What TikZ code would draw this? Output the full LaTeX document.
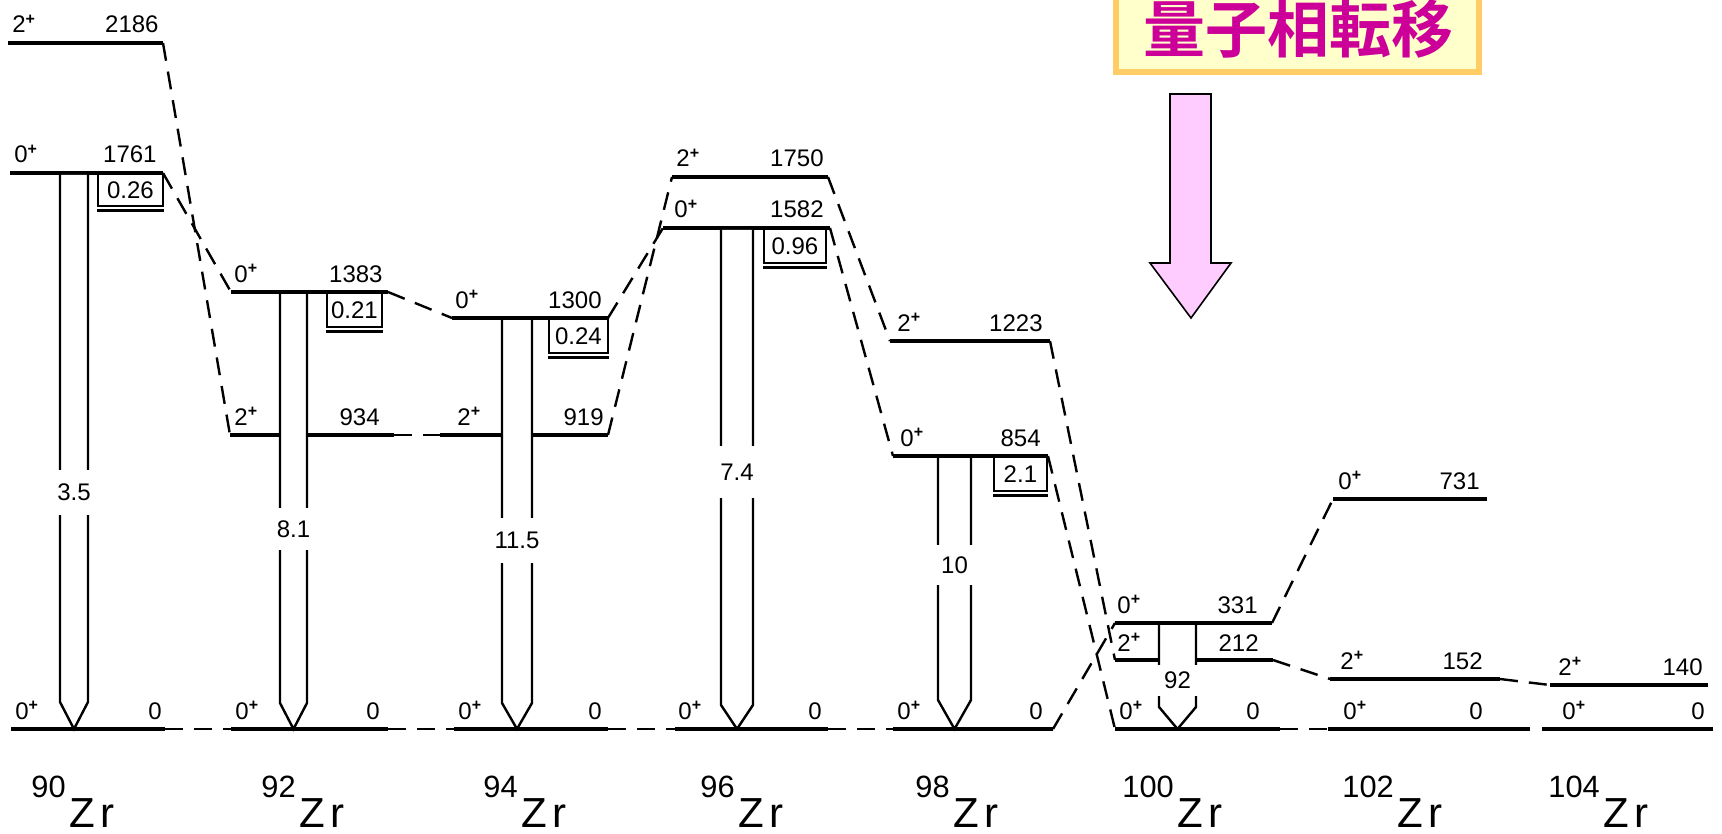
\documentclass[tikz,border=0pt]{standalone}
\usepackage{fontspec}
\setmainfont{Liberation Sans}
\newfontfamily\cjk{Noto Sans CJK JP}[BoldFont={Noto Sans CJK JP Bold}]
\usetikzlibrary{positioning}
\definecolor{titlemag}{HTML}{CC0099}
\definecolor{titlefill}{HTML}{FFFFCC}
\definecolor{titleedge}{HTML}{FFCC66}
\definecolor{arrowpink}{HTML}{FFCCFF}
\begin{document}
\begin{tikzpicture}[x=0.5pt, y=-0.5pt,
  level/.style={line width=1.7pt},
  ground/.style={line width=2.3pt},
  link/.style={line width=1.2pt, dash pattern=on 9pt off 5.5pt},
  trans/.style={line width=1.2pt},
  spin/.style={font=\fontsize{12}{14}\selectfont, inner sep=0pt, anchor=base west},
  energy/.style={font=\fontsize{12}{14}\selectfont, inner sep=0pt, anchor=base east},
  valbox/.style={draw, line width=1.1pt, minimum height=17pt, inner sep=0pt, font=\fontsize{12}{14}\selectfont},
  boxfoot/.style={line width=1.5pt},
  gaplab/.style={fill=white, inner sep=0pt, minimum width=22pt, font=\fontsize{12}{14}\selectfont},
  nuc/.style={font=\fontsize{21}{24}\selectfont, inner sep=0pt, anchor=base west}]

\useasboundingbox (0,0) rectangle (1722,834);
\fill[white] (0,0) rectangle (1722,834);
\clip (0,0) rectangle (1722,834);

% 90Zr
\coordinate (Z90a-l) at (8,43);
\coordinate (Z90a-r) at (163,43);
\coordinate (Z90b-l) at (10,173);
\coordinate (Z90b-r) at (163,173);
\coordinate (Z90g-l) at (11,729);
\coordinate (Z90g-r) at (165,729);
\draw[level] (Z90a-l) -- (Z90a-r);
\draw[level] (Z90b-l) -- (Z90b-r);
\draw[ground] (Z90g-l) -- (Z90g-r);
\node[spin] (Z90a-s) at (12,33) {2\textsuperscript{\textbf{+}}};
\node[energy] (Z90a-e) at (159,33) {2186};
\node[spin] (Z90b-s) at (14,163) {0\textsuperscript{\textbf{+}}};
\node[energy] (Z90b-e) at (157,163) {1761};
\node[spin] (Z90g-s) at (15,719) {0\textsuperscript{\textbf{+}}};
\node[energy] (Z90g-e) at (162,719) {0};

% 92Zr
\coordinate (Z92b-l) at (231,292);
\coordinate (Z92b-r) at (388,292);
\coordinate (Z92a-l) at (230,435);
\coordinate (Z92a-r) at (394,435);
\coordinate (Z92g-l) at (231,729);
\coordinate (Z92g-r) at (388,729);
\draw[level] (Z92b-l) -- (Z92b-r);
\draw[level] (Z92a-l) -- (Z92a-r);
\draw[ground] (Z92g-l) -- (Z92g-r);
\node[spin] (Z92b-s) at (234,282) {0\textsuperscript{\textbf{+}}};
\node[energy] (Z92b-e) at (383,282) {1383};
\node[spin] (Z92a-s) at (234,425) {2\textsuperscript{\textbf{+}}};
\node[energy] (Z92a-e) at (380,425) {934};
\node[spin] (Z92g-s) at (235,719) {0\textsuperscript{\textbf{+}}};
\node[energy] (Z92g-e) at (380,719) {0};

% 94Zr
\coordinate (Z94b-l) at (452,318);
\coordinate (Z94b-r) at (608,318);
\coordinate (Z94a-l) at (440,435);
\coordinate (Z94a-r) at (608,435);
\coordinate (Z94g-l) at (454,729);
\coordinate (Z94g-r) at (608,729);
\draw[level] (Z94b-l) -- (Z94b-r);
\draw[level] (Z94a-l) -- (Z94a-r);
\draw[ground] (Z94g-l) -- (Z94g-r);
\node[spin] (Z94b-s) at (455,308) {0\textsuperscript{\textbf{+}}};
\node[energy] (Z94b-e) at (602,308) {1300};
\node[spin] (Z94a-s) at (457,425) {2\textsuperscript{\textbf{+}}};
\node[energy] (Z94a-e) at (604,425) {919};
\node[spin] (Z94g-s) at (458,719) {0\textsuperscript{\textbf{+}}};
\node[energy] (Z94g-e) at (602,719) {0};

% 96Zr
\coordinate (Z96a-l) at (672,177);
\coordinate (Z96a-r) at (828,177);
\coordinate (Z96b-l) at (663,228);
\coordinate (Z96b-r) at (830,228);
\coordinate (Z96g-l) at (675,729);
\coordinate (Z96g-r) at (828,729);
\draw[level] (Z96a-l) -- (Z96a-r);
\draw[level] (Z96b-l) -- (Z96b-r);
\draw[ground] (Z96g-l) -- (Z96g-r);
\node[spin] (Z96a-s) at (676,167) {2\textsuperscript{\textbf{+}}};
\node[energy] (Z96a-e) at (824,167) {1750};
\node[spin] (Z96b-s) at (674,218) {0\textsuperscript{\textbf{+}}};
\node[energy] (Z96b-e) at (824,218) {1582};
\node[spin] (Z96g-s) at (678,719) {0\textsuperscript{\textbf{+}}};
\node[energy] (Z96g-e) at (822,719) {0};

% 98Zr
\coordinate (Z98a-l) at (890,341);
\coordinate (Z98a-r) at (1050,341);
\coordinate (Z98b-l) at (893,456);
\coordinate (Z98b-r) at (1048,456);
\coordinate (Z98g-l) at (893,729);
\coordinate (Z98g-r) at (1053,729);
\draw[level] (Z98a-l) -- (Z98a-r);
\draw[level] (Z98b-l) -- (Z98b-r);
\draw[ground] (Z98g-l) -- (Z98g-r);
\node[spin] (Z98a-s) at (897,331) {2\textsuperscript{\textbf{+}}};
\node[energy] (Z98a-e) at (1043,331) {1223};
\node[spin] (Z98b-s) at (900,446) {0\textsuperscript{\textbf{+}}};
\node[energy] (Z98b-e) at (1041,446) {854};
\node[spin] (Z98g-s) at (897,719) {0\textsuperscript{\textbf{+}}};
\node[energy] (Z98g-e) at (1043,719) {0};

% 100Zr
\coordinate (Z100b-l) at (1115,623);
\coordinate (Z100b-r) at (1272,623);
\coordinate (Z100a-l) at (1115,660);
\coordinate (Z100a-r) at (1273,660);
\coordinate (Z100g-l) at (1115,729);
\coordinate (Z100g-r) at (1280,729);
\draw[level] (Z100b-l) -- (Z100b-r);
\draw[level] (Z100a-l) -- (Z100a-r);
\draw[ground] (Z100g-l) -- (Z100g-r);
\node[spin] (Z100b-s) at (1117,613) {0\textsuperscript{\textbf{+}}};
\node[energy] (Z100b-e) at (1258,613) {331};
\node[spin] (Z100a-s) at (1117,651) {2\textsuperscript{\textbf{+}}};
\node[energy] (Z100a-e) at (1259,651) {212};
\node[spin] (Z100g-s) at (1119,719) {0\textsuperscript{\textbf{+}}};
\node[energy] (Z100g-e) at (1260,719) {0};

% 102Zr
\coordinate (Z102b-l) at (1333,499);
\coordinate (Z102b-r) at (1487,499);
\coordinate (Z102a-l) at (1330,679);
\coordinate (Z102a-r) at (1500,679);
\coordinate (Z102g-l) at (1328,729);
\coordinate (Z102g-r) at (1530,729);
\draw[level] (Z102b-l) -- (Z102b-r);
\draw[level] (Z102a-l) -- (Z102a-r);
\draw[ground] (Z102g-l) -- (Z102g-r);
\node[spin] (Z102b-s) at (1338,489) {0\textsuperscript{\textbf{+}}};
\node[energy] (Z102b-e) at (1480,489) {731};
\node[spin] (Z102a-s) at (1340,669) {2\textsuperscript{\textbf{+}}};
\node[energy] (Z102a-e) at (1483,669) {152};
\node[spin] (Z102g-s) at (1343,719) {0\textsuperscript{\textbf{+}}};
\node[energy] (Z102g-e) at (1483,719) {0};

% 104Zr
\coordinate (Z104a-l) at (1550,685);
\coordinate (Z104a-r) at (1708,685);
\coordinate (Z104g-l) at (1542,729);
\coordinate (Z104g-r) at (1713,729);
\draw[level] (Z104a-l) -- (Z104a-r);
\draw[ground] (Z104g-l) -- (Z104g-r);
\node[spin] (Z104a-s) at (1558,675) {2\textsuperscript{\textbf{+}}};
\node[energy] (Z104a-e) at (1703,675) {140};
\node[spin] (Z104g-s) at (1562,719) {0\textsuperscript{\textbf{+}}};
\node[energy] (Z104g-e) at (1705,719) {0};

% dashed links between isotopes
\draw[link] (Z90a-r) -- (Z92a-l);
\draw[link] (Z90b-r) -- (Z92b-l);
\draw[link] (Z90g-r) -- (Z92g-l);
\draw[link] (Z92b-r) -- (Z94b-l);
\draw[link] (Z92a-r) -- (Z94a-l);
\draw[link] (Z92g-r) -- (Z94g-l);
\draw[link] (Z94b-r) -- (Z96b-l);
\draw[link] (Z94a-r) -- (Z96a-l);
\draw[link] (Z94g-r) -- (Z96g-l);
\draw[link] (Z96a-r) -- (Z98a-l);
\draw[link] (Z96b-r) -- (Z98b-l);
\draw[link] (Z96g-r) -- (Z98g-l);
\draw[link] (Z98a-r) -- (Z100a-l);
\draw[link] (Z98b-r) -- (Z100g-l);
\draw[link] (Z98g-r) -- (Z100b-l);
\draw[link] (Z100b-r) -- (Z102b-l);
\draw[link] (Z100a-r) -- (Z102a-l);
\draw[link] (Z100g-r) -- (Z102g-l);
\draw[link] (Z102a-r) -- (Z104a-l);

% boxed values under the excited 0+ levels
\node[valbox, minimum width=32.5pt, minimum height=16pt, below left=0pt and -0.5pt of Z90b-r] (V90) {0.26};
\draw[boxfoot] ([yshift=-1.6pt]V90.south west) -- ([yshift=-1.6pt]V90.south east);
\node[valbox, minimum width=27.5pt, below left=0pt and 2.5pt of Z92b-r] (V92) {0.21};
\draw[boxfoot] ([yshift=-1.6pt]V92.south west) -- ([yshift=-1.6pt]V92.south east);
\node[valbox, minimum width=29.5pt, below left=0pt and -0.5pt of Z94b-r] (V94) {0.24};
\draw[boxfoot] ([yshift=-1.6pt]V94.south west) -- ([yshift=-1.6pt]V94.south east);
\node[valbox, minimum width=31pt, below left=0pt and 1.5pt of Z96b-r] (V96) {0.96};
\draw[boxfoot] ([yshift=-1.6pt]V96.south west) -- ([yshift=-1.6pt]V96.south east);
\node[valbox, minimum width=26.5pt, below left=0pt and 0pt of Z98b-r] (V98) {2.1};
\draw[boxfoot] ([yshift=-1.6pt]V98.south west) -- ([yshift=-1.6pt]V98.south east);

% E0 transitions to the ground state
\fill[white] (60,175) -- (60,702) -- (74,727) -- (88,702) -- (88,175) -- cycle;
\draw[trans] (60,173) -- (60,702) -- (74,729) -- (88,702) -- (88,173);
\node[gaplab, minimum height=22.5pt] (T90) at (74,492) {3.5};
\fill[white] (280,294) -- (280,703) -- (293.5,727) -- (307,703) -- (307,294) -- cycle;
\draw[trans] (280,292) -- (280,703) -- (293.5,729) -- (307,703) -- (307,292);
\node[gaplab, minimum height=21pt] (T92) at (293.5,529) {8.1};
\fill[white] (502,320) -- (502,703) -- (517,727) -- (532,703) -- (532,320) -- cycle;
\draw[trans] (502,318) -- (502,703) -- (517,729) -- (532,703) -- (532,318);
\node[gaplab, minimum height=22.5pt] (T94) at (517,540) {11.5};
\fill[white] (721,230) -- (721,705) -- (737,727) -- (753,705) -- (753,230) -- cycle;
\draw[trans] (721,228) -- (721,705) -- (737,729) -- (753,705) -- (753,228);
\node[gaplab, minimum height=26pt] (T96) at (737,472) {7.4};
\fill[white] (938,458) -- (938,700) -- (954.5,727) -- (971,700) -- (971,458) -- cycle;
\draw[trans] (938,456) -- (938,700) -- (954.5,729) -- (971,700) -- (971,456);
\node[gaplab, minimum height=20pt] (T98) at (954.5,565) {10};
\fill[white] (1159,625) -- (1159,707) -- (1177.5,727) -- (1196,707) -- (1196,625) -- cycle;
\draw[trans] (1159,623) -- (1159,707) -- (1177.5,729) -- (1196,707) -- (1196,623);
\node[gaplab, minimum height=15.5pt] (T100) at (1177.5,680) {92};

% isotope names
\node[nuc] (N90) at (31,827) {\raisebox{15pt}{\fontsize{15.4}{16}\selectfont 90}\hspace{2pt}Z\hspace{0.12em}r};
\node[nuc] (N92) at (261,827) {\raisebox{15pt}{\fontsize{15.4}{16}\selectfont 92}\hspace{2pt}Z\hspace{0.12em}r};
\node[nuc] (N94) at (483,827) {\raisebox{15pt}{\fontsize{15.4}{16}\selectfont 94}\hspace{2pt}Z\hspace{0.12em}r};
\node[nuc] (N96) at (700,827) {\raisebox{15pt}{\fontsize{15.4}{16}\selectfont 96}\hspace{2pt}Z\hspace{0.12em}r};
\node[nuc] (N98) at (915,827) {\raisebox{15pt}{\fontsize{15.4}{16}\selectfont 98}\hspace{2pt}Z\hspace{0.12em}r};
\node[nuc] (N100) at (1122,827) {\raisebox{15pt}{\fontsize{15.4}{16}\selectfont 100}\hspace{2pt}Z\hspace{0.12em}r};
\node[nuc] (N102) at (1342,827) {\raisebox{15pt}{\fontsize{15.4}{16}\selectfont 102}\hspace{2pt}Z\hspace{0.12em}r};
\node[nuc] (N104) at (1548,827) {\raisebox{15pt}{\fontsize{15.4}{16}\selectfont 104}\hspace{2pt}Z\hspace{0.12em}r};

% title and pointer
\draw[line width=3pt, draw=titleedge, fill=titlefill] (1116,-30) rectangle (1479,72);
\node[font=\cjk\bfseries\fontsize{31}{34}\selectfont, text=titlemag, inner sep=0pt] (title) at (1298,29) {量子相転移};
\draw[fill=arrowpink, line width=0.8pt] (1170,94) -- (1211,94) -- (1211,263) -- (1231,263) -- (1191,318) -- (1150,263) -- (1170,263) -- cycle;

\end{tikzpicture}
\end{document}
